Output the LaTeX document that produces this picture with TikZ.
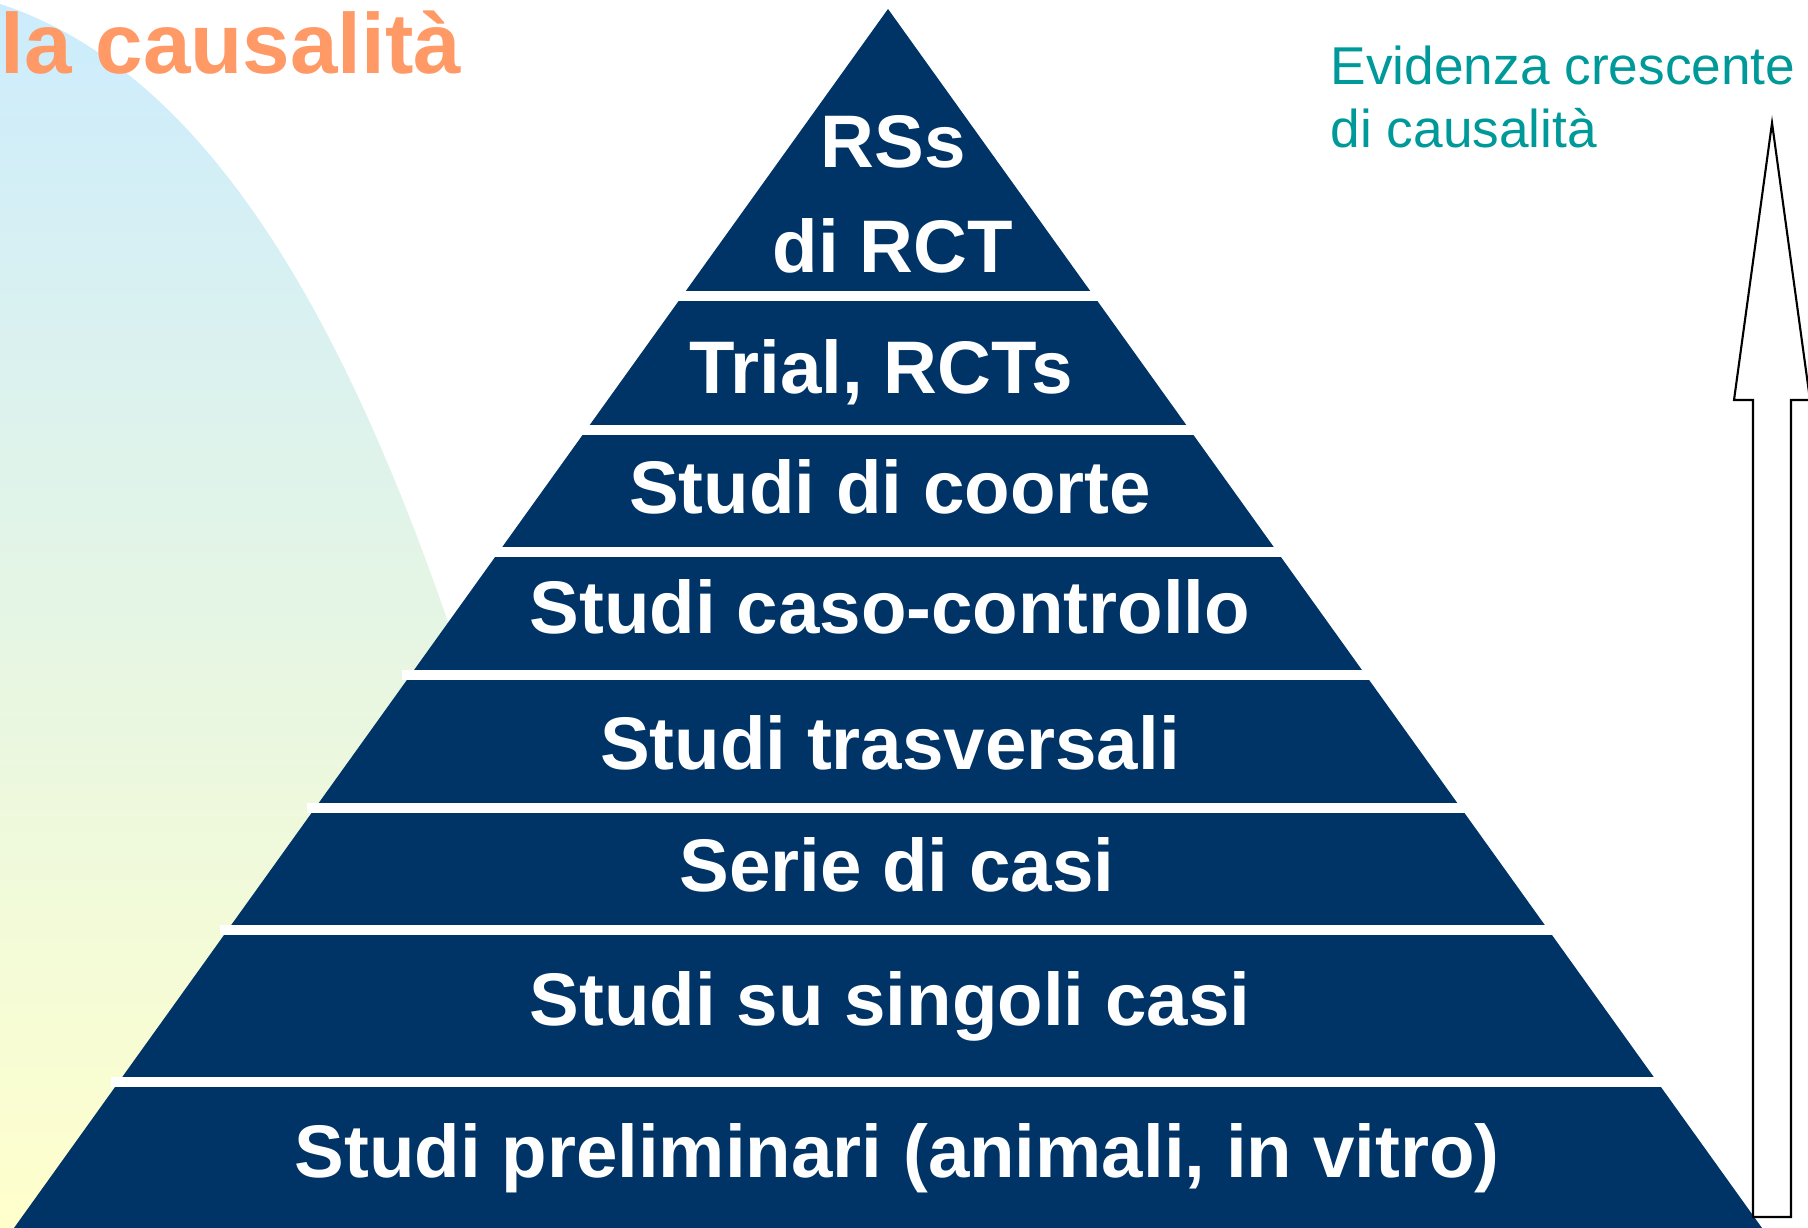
\documentclass[tikz,border=0pt]{standalone}
\usepackage{fontspec}
\setmainfont{Liberation Sans}
\usepackage{tikz}

\definecolor{navy}{RGB}{0,51,102}
\definecolor{titleorange}{RGB}{255,153,102}
\definecolor{evidteal}{RGB}{0,153,153}
\definecolor{skyblue}{RGB}{204,236,253}
\definecolor{paleyellow}{RGB}{255,255,204}

\tikzstyle{tier} = [text=white, 
font=\fontsize{21.2}{25}\selectfont\bfseries, 
text height=15.2pt, 
text depth=0pt, 
inner sep=0pt]
\tikzstyle{divider} = [draw=white, line width=0.1cm]
\tikzstyle{heading} = [anchor=base west, 
inner sep=0pt, 
text=titleorange, 
font=\fontsize{24.3}{29}\selectfont\bfseries]
\tikzstyle{evid} = [anchor=base west, 
inner sep=0pt, 
text=evidteal, 
font=\fontsize{15.15}{18}\selectfont]
\tikzstyle{blockarrow} = [draw=black, fill=white, line width=0.6pt]

\begin{document}
\begin{tikzpicture}[node distance=1.2cm]
\useasboundingbox (0,0) rectangle (18.08,12.28);

% soft backdrop on the left
\shade [top color=skyblue, bottom color=paleyellow] (0,12.24) .. controls (2.75,11.34) and (4.30,7.28) .. (5.60,2.28) -- (5.60,0) -- (0,0) -- cycle;

\node (title) [heading] at (0,11.54) {la causalità};

% the pyramid, cut into tiers by white bars
\coordinate (apex) at (8.88,12.19);
\coordinate (baseleft) at (0.14,0);
\coordinate (baseright) at (17.62,0);
\fill [navy] (apex) -- (baseright) -- (baseleft) -- cycle;

\draw [divider] (6.74,9.32) -- (11.02,9.32);
\draw [divider] (5.78,7.98) -- (11.98,7.98);
\draw [divider] (4.91,6.76) -- (12.85,6.76);
\draw [divider] (4.02,5.525) -- (13.74,5.525);
\draw [divider] (3.07,4.20) -- (14.69,4.20);
\draw [divider] (2.20,2.98) -- (15.56,2.98);
\draw [divider] (1.11,1.46) -- (16.65,1.46);

\node (rss) [tier] at (8.93,10.87) {RSs};
\node (rct) [tier] at (8.93,9.82) {di RCT};
\node (trial) [tier] at (8.81,8.61) {Trial, RCTs};
\node (coorte) [tier] at (8.90,7.41) {Studi di coorte};
\node (caso) [tier] at (8.90,6.21) {Studi caso-controllo};
\node (trasv) [tier] at (8.90,4.85) {Studi trasversali};
\node (serie) [tier] at (8.97,3.63) {Serie di casi};
\node (singoli) [tier] at (8.90,2.29) {Studi su singoli casi};
\node (prelim) [tier] at (8.97,0.77) {Studi preliminari (animali, in vitro)};

% growing evidence
\node (evid1) [evid] at (13.30,11.43) {Evidenza crescente};
\node (evid2) [evid] at (13.30,10.80) {di causalità};

\coordinate (tip) at (17.72,11.05);
\draw [blockarrow] (tip) -- (18.10,8.28) -- (17.91,8.28) -- (17.91,0.11) -- (17.53,0.11) -- (17.53,8.28) -- (17.34,8.28) -- cycle;

\end{tikzpicture}
\end{document}
